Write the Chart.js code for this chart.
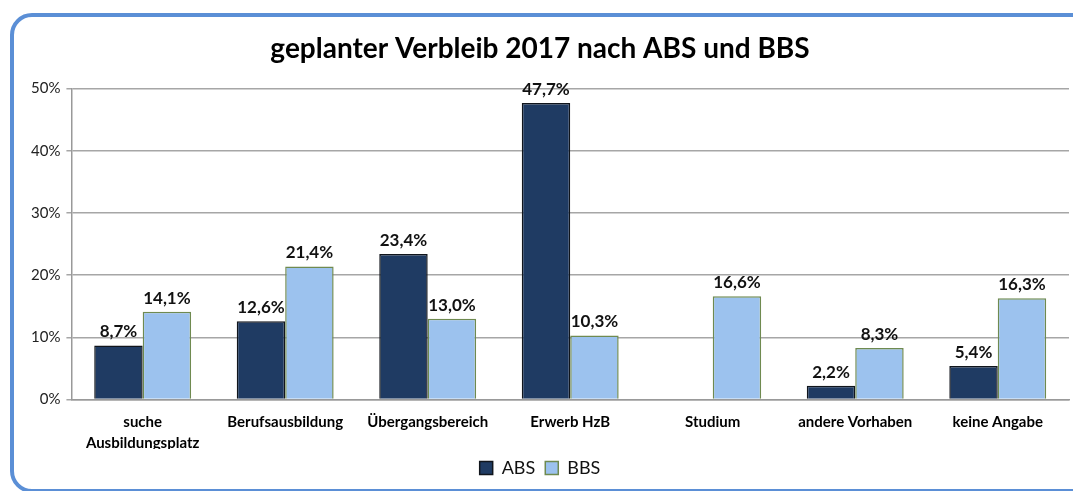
<!DOCTYPE html>
<html lang="de">
<head>
    <meta charset="UTF-8">
    <title>geplanter Verbleib 2017 nach ABS und BBS</title>
    <style>
        body {
            margin: 0;
            padding: 0;
            background: #ffffff;
            width: 1073px;
            height: 491px;
            overflow: hidden;
            position: relative;
        }
        .frame {
            position: absolute;
            left: 10px;
            top: 13px;
            width: 1090px;
            height: 472px;
            border: 4px solid #5b8fd6;
            border-radius: 22px;
        }
        .container {
            position: absolute;
            left: 0;
            top: 0;
            width: 1073px;
            height: 491px;
        }
    </style>
    <script src="https://cdn.jsdelivr.net/npm/chart.js"></script>
</head>
<body>
    <div class="frame"></div>
    <div class="container">
        <canvas id="verbleibChart" width="1073" height="491"></canvas>
    </div>

    <script>
        // Data
        const categories = [
            ['suche', 'Ausbildungsplatz'],
            'Berufsausbildung',
            'Übergangsbereich',
            'Erwerb HzB',
            'Studium',
            'andere Vorhaben',
            'keine Angabe'
        ];
        const absValues = [8.7, 12.6, 23.4, 47.7, null, 2.2, 5.4];
        const bbsValues = [14.1, 21.4, 13.0, 10.3, 16.6, 8.3, 16.3];
        const yTicks = [0, 10, 20, 30, 40, 50];

        const fontFamily = 'Lato, "Open Sans", sans-serif';

        // draws the value above each bar, German decimal comma
        const valueLabels = {
            id: 'valueLabels',
            afterDatasetsDraw(chart) {
                const ctx = chart.ctx;
                ctx.save();
                ctx.font = 'bold 17px ' + fontFamily;
                ctx.fillStyle = '#111111';
                ctx.textAlign = 'center';
                ctx.textBaseline = 'bottom';
                chart.data.datasets.forEach((ds, i) => {
                    const meta = chart.getDatasetMeta(i);
                    meta.data.forEach((bar, j) => {
                        const v = ds.data[j];
                        if (v === null || v === undefined) return;
                        const txt = v.toFixed(1).replace('.', ',') + '%';
                        ctx.fillText(txt, bar.x, bar.y - 5);
                    });
                });
                ctx.restore();
            }
        };

        const ctx = document.getElementById('verbleibChart').getContext('2d');
        new Chart(ctx, {
            type: 'bar',
            data: {
                labels: categories,
                datasets: [
                    {
                        label: 'ABS',
                        data: absValues,
                        backgroundColor: '#1f3b63',
                        borderColor: '#10151c',
                        borderWidth: 1.5,
                        borderSkipped: 'bottom'
                    },
                    {
                        label: 'BBS',
                        data: bbsValues,
                        backgroundColor: '#9cc2ee',
                        borderColor: '#6f8a50',
                        borderWidth: 1.5,
                        borderSkipped: 'bottom'
                    }
                ]
            },
            options: {
                responsive: false,
                animation: false,
                devicePixelRatio: 1,
                layout: {
                    padding: { left: 11, right: 4, top: 0, bottom: 4 }
                },
                datasets: {
                    bar: {
                        categoryPercentage: 0.68,
                        barPercentage: 1.0
                    }
                },
                scales: {
                    x: {
                        grid: { display: false, drawTicks: false },
                        border: { color: '#999999', width: 1.5 },
                        ticks: {
                            color: '#000000',
                            font: { family: fontFamily, size: 15, weight: 'bold', lineHeight: 1.35 },
                            padding: 13,
                            maxRotation: 0,
                            autoSkip: false
                        },
                        afterFit(scale) {
                            scale.height = scale.height - 17;
                        }
                    },
                    y: {
                        min: 0,
                        max: 50,
                        afterBuildTicks(scale) {
                            scale.ticks = yTicks.map(v => ({ value: v }));
                        },
                        afterFit(scale) {
                            scale.width = scale.width + 14;
                        },
                        grid: {
                            color: '#a6a6a6',
                            lineWidth: 1.5,
                            tickLength: 5
                        },
                        border: { color: '#999999', width: 1.5 },
                        ticks: {
                            color: '#222222',
                            font: { family: fontFamily, size: 15 },
                            padding: 6,
                            callback: v => v + '%'
                        }
                    }
                },
                plugins: {
                    title: {
                        display: true,
                        text: 'geplanter Verbleib 2017 nach ABS und BBS',
                        color: '#000000',
                        font: { family: fontFamily, size: 28, weight: 'bold' },
                        padding: { top: 32, bottom: 23 }
                    },
                    legend: {
                        display: true,
                        position: 'bottom',
                        labels: {
                            color: '#111111',
                            font: { family: fontFamily, size: 18 },
                            boxWidth: 13,
                            boxHeight: 13,
                            padding: 10
                        }
                    },
                    tooltip: { enabled: false }
                }
            },
            plugins: [valueLabels]
        });
    </script>
</body>
</html>
